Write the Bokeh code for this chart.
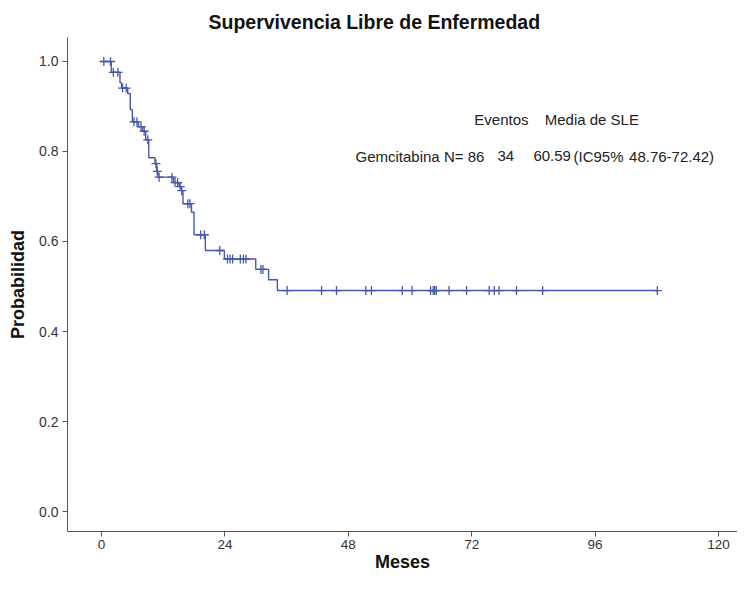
from bokeh.plotting import figure
from bokeh.models import FixedTicker, PrintfTickFormatter, ColumnDataSource, Range1d
from bokeh.core.properties import value
from bokeh.embed import file_html
from bokeh.resources import INLINE
import numpy as np

# Kaplan-Meier step function (months, survival after the step)
step_times = [0.0, 1.9, 3.6, 3.9, 5.1, 5.6, 6.0, 7.2, 8.0, 8.6, 9.2, 10.4, 10.75,
              11.0, 14.0, 15.1, 15.5, 15.85, 17.5, 18.0, 20.2, 23.9, 30.0, 32.5, 34.2]
step_surv = [1.0, 0.976, 0.953, 0.941, 0.929, 0.893, 0.866, 0.855, 0.845, 0.826,
             0.786, 0.773, 0.756, 0.743, 0.731, 0.722, 0.713, 0.684, 0.665, 0.615,
             0.580, 0.561, 0.538, 0.515, 0.491]
end_time = 108.1

# Censored observations (months)
censor_times = [0.45, 1.75, 2.3, 3.2, 4.1, 4.8, 6.3, 6.9, 7.7, 8.3, 9.0, 10.6, 10.85,
                11.2, 13.7, 14.3, 14.8, 15.3, 15.6, 16.8, 17.2, 19.3, 20.0, 23.0,
                24.5, 25.0, 25.5, 27.0, 27.6, 28.1, 31.0, 31.4, 36.1, 42.8, 45.7,
                51.4, 52.5, 58.5, 60.4, 64.0, 64.5, 64.8, 65.1, 67.6, 71.0, 75.4,
                76.4, 77.3, 80.7, 85.8, 108.1]

x_ticks = [0, 24, 48, 72, 96, 120]
y_ticks = [0.0, 0.2, 0.4, 0.6, 0.8, 1.0]

header_texts = ["Eventos", "Media de SLE"]
header_x = [72.5, 86.2]
header_y = 0.871
row_texts = ["Gemcitabina N= 86", "34", "60.59", "(IC95%", "48.76-72.42)"]
row_x = [49.4, 77.0, 84.0, 91.8, 102.6]
row_y = 0.789

title_text = "Supervivencia Libre de Enfermedad"
x_label = "Meses"
y_label = "Probabilidad"

FONT = "Liberation Sans"
LINE = "#4459aa"
AXIS = "#555555"
TXT = "#222222"

W, H = 737, 575
p = figure(width=W, height=H, output_backend="svg", toolbar_location=None,
           x_range=Range1d(-6.61, 123.69), y_range=Range1d(-0.0444, 1.0533),
           min_border_left=67, min_border_right=0, min_border_top=37,
           min_border_bottom=44, title=title_text)
p.outline_line_color = None
p.xgrid.visible = False
p.ygrid.visible = False
p.background_fill_color = "white"
p.border_fill_color = "white"

p.title.text_font = FONT
p.title.text_font_size = "19.5px"
p.title.text_font_style = "bold"
p.title.text_color = "#111111"
p.title.align = "left"
p.title.offset = 141
p.title.standoff = 10

# step line
sx = step_times + [end_time]
sy = step_surv + [step_surv[-1]]
p.step(x=sx, y=sy, mode="after", line_color=LINE, line_width=1.4)

# censor marks at the survival level at each time
st = np.array(step_times)
ss = np.array(step_surv)
idx = np.searchsorted(st, np.array(censor_times), side="right") - 1
cy = ss[idx]
p.scatter(x=censor_times, y=cy.tolist(), marker="cross", size=9,
          line_color=LINE, line_width=1.3)

# text table
src1 = ColumnDataSource(dict(x=header_x, y=[header_y] * len(header_x), t=header_texts))
src2 = ColumnDataSource(dict(x=row_x, y=[row_y] * len(row_x), t=row_texts))
for src in (src1, src2):
    p.text(x="x", y="y", text="t", source=src, text_font=value(FONT),
           text_font_size="15px", text_color=TXT, text_baseline="middle",
           text_align="left")

for ax in (p.xaxis[0], p.yaxis[0]):
    ax.axis_line_color = AXIS
    ax.major_tick_line_color = AXIS
    ax.major_tick_out = 5
    ax.major_tick_in = 0
    ax.minor_tick_line_color = None
    ax.major_label_text_font = FONT
    ax.major_label_text_color = "#333333"
    ax.axis_label_text_font = FONT
    ax.axis_label_text_font_style = "bold"
    ax.axis_label_text_font_size = "18px"
    ax.axis_label_text_color = "#111111"

p.xaxis.ticker = FixedTicker(ticks=x_ticks)
p.yaxis.ticker = FixedTicker(ticks=y_ticks)
p.yaxis.formatter = PrintfTickFormatter(format="%.1f")
p.xaxis.major_label_text_font_size = "13.5px"
p.yaxis.major_label_text_font_size = "14px"
p.xaxis.major_label_standoff = 3
p.yaxis.major_label_standoff = 4
p.xaxis.axis_label = x_label
p.xaxis.axis_label_standoff = 0
p.yaxis.axis_label = y_label
p.yaxis.axis_label_standoff = 8

open("out.html", "w").write(file_html(p, INLINE))
